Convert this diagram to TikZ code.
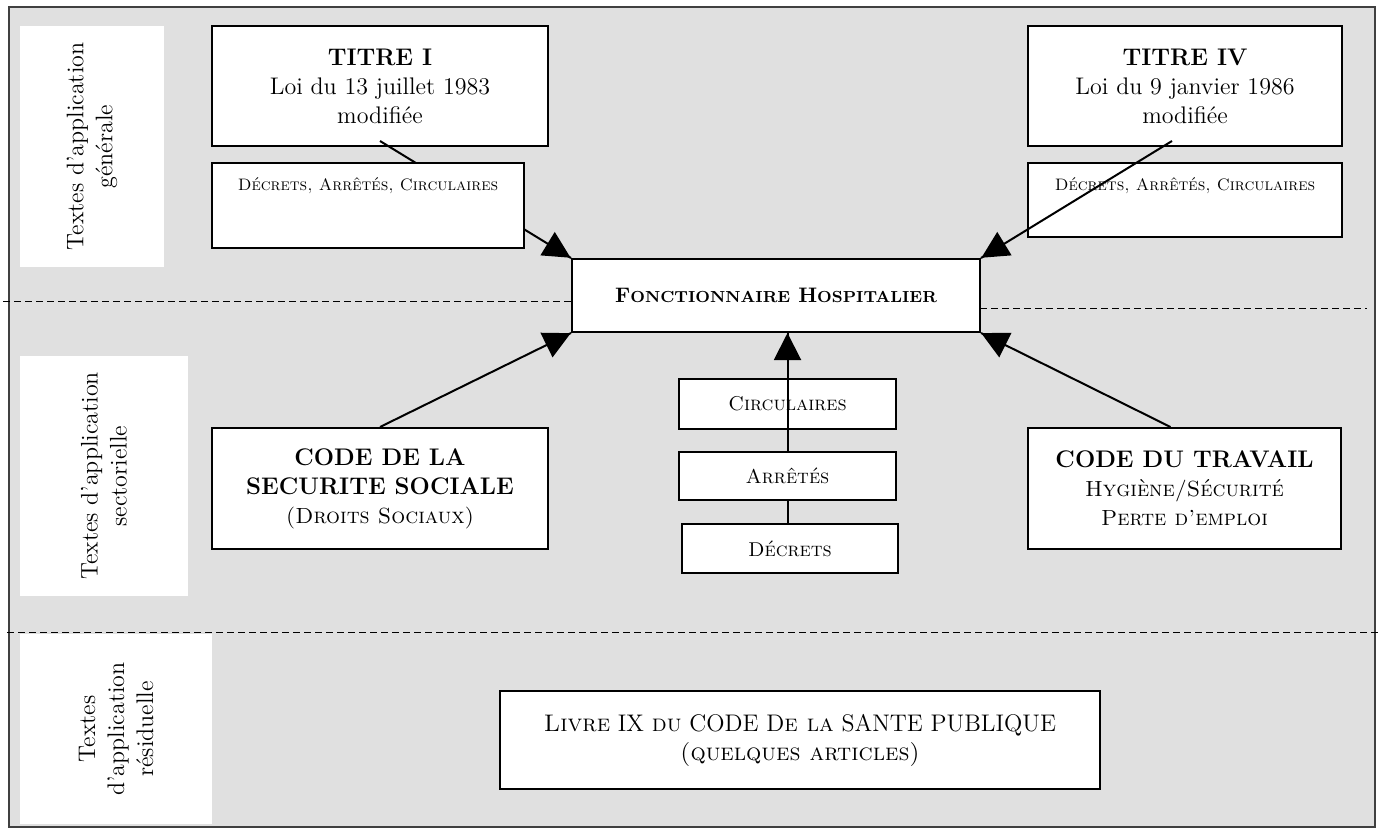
\documentclass[tikz,border=0pt,12pt]{standalone}
\usepackage{tikz}
\usetikzlibrary{arrows.meta}
\usetikzlibrary{decorations.markings}
\tikzset{fleche/.style = {decoration={markings,
                                      mark=at position 1 with {\arrow{Triangle[length=13.5pt, width=13.5pt]}}},
                          postaction={decorate}}}
\tikzset{boite/.style = {draw, fill=white, line width=1pt, inner sep=0, align=center}}
\tikzset{etiq/.style = {fill=white, inner sep=0, align=center, rotate=90}}
\tikzset{separ/.style = {dash pattern=on 3.5pt off 2pt, line width=0.5pt}}
\tikzset{lien/.style = {line width=1pt}}
\definecolor{gfond}{rgb}{0.878, 0.878, 0.878}
\definecolor{gcadre}{rgb}{0.25, 0.25, 0.25}
\newcommand{\pc}[1]{{\fontsize{8}{10}\selectfont #1}}

\begin{document}
\begin{tikzpicture}[x=0.5pt, y=-0.5pt]
      \useasboundingbox (0, 0) rectangle (1382, 829);
      \draw [gcadre, line width=1pt, fill=gfond] (9, 7) rectangle (1375, 827);
      \draw [separ] (3, 301) -- (572, 301);
      \draw [separ] (980, 308) -- (1367, 308);
      \draw [separ] (7, 632) -- (1378, 632);

      \node [etiq, minimum width=120.5pt, minimum height=72pt] (gen) at (92, 146.5) {Textes d’application\\générale};
      \node [etiq, minimum width=120pt, minimum height=84pt] (sect) at (104, 476) {Textes d’application\\sectorielle};
      \node [etiq, minimum width=95pt, minimum height=96pt] (resid) at (116, 729) {Textes\\d’application\\résiduelle};

      \node [boite, minimum width=204pt, minimum height=36.5pt] (fonct) at (776, 295.5)
            {\fontsize{10.5}{13}\selectfont\bfseries F\pc{ONCTIONNAIRE} H\pc{OSPITALIER}};

      \node [boite, minimum width=168pt, minimum height=60pt] (titreI) at (380, 86)
            {\textbf{TITRE I}\\Loi du 13 juillet 1983\\modifiée};
      \draw [lien, fleche] ([yshift=3pt]titreI.south) -- (fonct.north west);
      \node [boite, minimum width=156pt, text height=14pt, text depth=28.5pt, font=\fontsize{8.3}{10}\selectfont] (decretsI) at (368, 205.5)
            {\textsc{Décrets, Arrêtés, Circulaires}};

      \node [boite, minimum width=157pt, minimum height=60pt] (titreIV) at (1185, 86)
            {\textbf{TITRE IV}\\Loi du 9 janvier 1986\\modifiée};
      \node [boite, minimum width=157pt, text height=14pt, text depth=23pt, font=\fontsize{8.3}{10}\selectfont] (decretsIV) at (1185, 200)
            {\textsc{Décrets, Arrêtés, Circulaires}};
      \draw [lien, fleche] ([xshift=-6.5pt, yshift=3pt]titreIV.south) -- (fonct.north east);

      \node [boite, minimum width=168pt, minimum height=60.5pt] (secu) at (380, 488.5)
            {\textbf{CODE DE LA}\\\textbf{SECURITE SOCIALE}\\{\small\textsc{(Droits Sociaux)}}};
      \node [boite, minimum width=156.5pt, minimum height=60.5pt] (travail) at (1184.5, 488.5)
            {\textbf{CODE DU TRAVAIL}\\{\small\textsc{Hygiène/Sécurité}}\\{\small\textsc{Perte d’emploi}}};
      \draw [lien, fleche] (secu.north) -- (fonct.south west);
      \draw [lien, fleche] ([xshift=-7pt]travail.north) -- (fonct.south east);

      \node [boite, minimum width=108.5pt, minimum height=25pt, font=\footnotesize] (circ) at (787.5, 404) {\textsc{Circulaires}};
      \node [boite, minimum width=108.5pt, minimum height=24pt, font=\footnotesize] (arr) at (787.5, 476) {\textsc{Arrêtés}};
      \node [boite, minimum width=108pt, minimum height=24.5pt, font=\footnotesize] (decr) at (790, 548.5) {\textsc{Décrets}};
      \draw [lien] (arr.south) -- (arr.south |- decr.north);
      \draw [lien, fleche] (arr.north) -- (arr.north |- fonct.south);

      \node [boite, minimum width=300pt, minimum height=49pt] (livre) at (800, 740)
            {\textsc{Livre} IX \textsc{du} CODE D\textsc{e la} SANTE PUBLIQUE\\\textsc{(quelques articles)}};
    \end{tikzpicture}
\end{document}
